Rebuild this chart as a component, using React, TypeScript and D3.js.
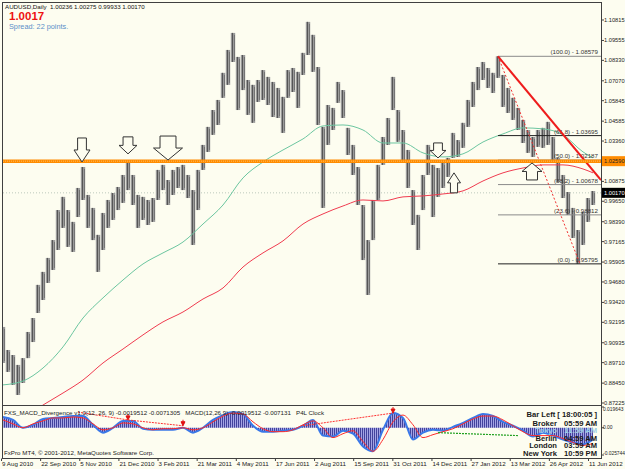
import * as d3 from "d3";

// AUDUSD daily, sampled every ~4 bars (high / low)
const highs = [
  0.9191, 0.9049, 0.9018, 0.8957, 0.8999, 0.916, 0.9246, 0.945, 0.953, 0.9616,
  0.9726, 0.9911, 0.9992, 0.9911, 0.9838, 1.0047, 1.0176, 1.0004, 0.9924, 0.9758,
  0.9893, 0.9973, 1.0016, 1.0053, 1.0127, 1.0219, 1.0127, 1.0004, 0.9992, 0.9973,
  0.9985, 1.0158, 1.0189, 1.0096, 1.0158, 1.0176, 1.0189, 1.0127, 1.0034, 1.0158,
  1.0312, 1.0423, 1.0527, 1.0589, 1.0756, 1.0897, 1.1002, 1.0854, 1.0866, 1.0712,
  1.0682, 1.0712, 1.0773, 1.0731, 1.07, 1.0663, 1.0608, 1.0773, 1.0786, 1.0762,
  1.0879, 1.107, 1.099, 1.0792, 1.0423, 1.0558, 1.054, 1.07, 1.065, 1.0417,
  1.0312, 1.0176, 0.9942, 0.9726, 0.9973, 1.0189, 1.0361, 1.0478, 1.0731, 1.0527,
  1.0404, 1.0281, 1.0034, 0.9881, 1.0127, 1.0312, 1.0189, 1.017, 1.0201, 1.0232,
  1.0386, 1.0342, 1.0448, 1.0589, 1.07, 1.0792, 1.0823, 1.0786, 1.0756, 1.0858,
  1.0743, 1.0663, 1.0602, 1.054, 1.0466, 1.0404, 1.0361, 1.0404, 1.0417, 1.0454,
  1.0361, 1.0232, 1.0127, 1.0022, 0.9924, 0.9788, 0.9899, 0.9985, 1.0028,
];
const lows = [
  0.8969, 0.8914, 0.8834, 0.8772, 0.8846, 0.8999, 0.9098, 0.9277, 0.9357, 0.9462,
  0.9542, 0.9665, 0.9801, 0.9684, 0.9653, 0.9868, 0.9973, 0.9801, 0.9726, 0.953,
  0.9665, 0.9801, 0.985, 0.9911, 0.9955, 1.0034, 0.9942, 0.9801, 0.985, 0.9819,
  0.9838, 0.9973, 1.0034, 0.9942, 1.0004, 1.0047, 1.0034, 0.9985, 0.9696, 0.9911,
  1.0158, 1.0269, 1.0374, 1.0435, 1.0602, 1.0682, 1.0823, 1.0527, 1.065, 1.0497,
  1.0448, 1.0577, 1.0589, 1.0558, 1.0484, 1.0478, 1.0386, 1.0602, 1.0638, 1.054,
  1.0743, 1.0866, 1.0762, 1.0435, 0.9924, 1.0312, 1.0404, 1.0571, 1.0478, 1.025,
  1.0127, 0.9942, 0.9603, 0.9388, 0.9726, 0.9973, 1.0189, 1.0312, 1.0527, 1.0331,
  1.0201, 1.0047, 0.9819, 0.9665, 0.9911, 1.0127, 0.9868, 0.9992, 1.0047, 1.0115,
  1.0232, 1.0238, 1.0294, 1.0423, 1.0546, 1.065, 1.0712, 1.0663, 1.0632, 1.0725,
  1.0546, 1.0509, 1.0466, 1.0404, 1.0324, 1.0263, 1.0238, 1.03, 1.0294, 1.0312,
  1.0219, 1.0084, 0.9985, 0.9881, 0.9739, 0.958, 0.9696, 0.9838, 0.9942,
];

// moving averages, one value every 4 samples (last one at the final bar)
const maGreen = [
  0.8834, 0.8858, 0.8938, 0.9068, 0.9246, 0.937, 0.948, 0.9579, 0.9647, 0.9714,
  0.9825, 0.9942, 1.0109, 1.0207, 1.0281, 1.0349, 1.0429, 1.0435, 1.0404, 1.0324,
  1.0324, 1.0263, 1.0238, 1.0257, 1.033, 1.038, 1.0417, 1.0411, 1.0374, 1.0269, 1.0232,
];
const maRed = [
  0.8556, 0.863, 0.871, 0.8784, 0.8864, 0.8969, 0.9055, 0.9142, 0.9222, 0.9283,
  0.9363, 0.9431, 0.956, 0.9647, 0.9721, 0.9825, 0.9887, 0.9936, 0.9973, 0.9967,
  0.9992, 0.9998, 1.001, 1.0029, 1.009, 1.014, 1.017, 1.0189, 1.0189, 1.0164, 1.014,
];

// MACD panel, one value every 2 samples
const macdMain = [
  0.0102, 0.0074, 0, 0.0028, 0.0083, 0.0093, 0.0102, 0.0111, 0.0111, 0.0028,
  -0.0046, 0, 0.0065, 0.0065, -0.0009, -0.0019, -0.0019, -0.0019, 0, -0.0046,
  0, 0.0074, 0.012, 0.0148, 0.013, 0.0019, -0.0037, -0.0037, -0.0028, -0.0019,
  0.0019, 0.0074, -0.0074, -0.0083, -0.0028, -0.0056, -0.0176, -0.0222, -0.0019, 0.0139,
  0.0093, -0.0111, -0.0046, -0.0019, -0.0028, 0.0009, 0.0046, 0.0093, 0.013, 0.0111,
  0.0056, 0.0019, -0.0028, -0.0083, -0.0046, -0.0074, -0.0111, -0.0139, -0.0157, -0.0111,
];
const macdSignal = [
  0.0074, 0.0037, 0, 0.0037, 0.0065, 0.0093, 0.0093, 0.0102, 0.0093, 0.0037,
  -0.0019, 0, 0.0046, 0.0037, 0, -0.0019, -0.0009, -0.0009, 0, -0.0019,
  0, 0.0056, 0.0111, 0.0139, 0.013, 0.0056, -0.0009, -0.0037, -0.0037, -0.0019,
  0.0028, 0.0065, 0, -0.0093, -0.0056, -0.0028, -0.013, -0.0222, -0.0111, 0.0056,
  0.012, 0.0028, -0.0093, -0.0065, -0.0037, -0.0009, 0.0037, 0.0083, 0.0111, 0.0111,
  0.0074, 0.0019, -0.0037, -0.0074, -0.0074, -0.0074, -0.0102, -0.0139, -0.0167, -0.0148,
];
// divergence lines: [sampleFrom, valueFrom, sampleTo, valueTo]
const divRed = [
  [15, 0.0148, 25, 0.0074],
  [25, 0.0074, 36, 0.0019],
  [60, 0.0019, 78, 0.0139],
];
const divGreen = [[87, -0.0046, 103, -0.0074]];

const priceTicks = [
  "1.10815", "1.09555", "1.08330", "1.07070", "1.05845", "1.04585", "1.03360",
  "1.00875", "0.99650", "0.98390", "0.97165", "0.95905", "0.94680", "0.93420",
  "0.92195", "0.90935", "0.89710", "0.88450", "0.87225",
];
const macdTicks = ["0.019643", "0.00", "-0.025744"];
const timeLabels = [
  "9 Aug 2010", "22 Sep 2010", "5 Nov 2010", "21 Dec 2010", "3 Feb 2011",
  "21 Mar 2011", "4 May 2011", "17 Jun 2011", "2 Aug 2011", "15 Sep 2011",
  "31 Oct 2011", "14 Dec 2011", "27 Jan 2012", "13 Mar 2012", "26 Apr 2012", "11 Jun 2012",
];

const fibLevels = ["100.0", "61.8", "50.0", "38.2", "23.6", "0.0"];
const fibPrices = [1.08579, 1.03695, 1.02187, 1.00678, 0.98812, 0.95795];
const fibStart = 99;
const fibLowAt = 115.4;
const trendEnd = [119.6, 1.0096];
const levelLine = 1.0212;
const levelLabel = "1.02590";
const lastPrice = 1.0017;

// hollow arrows: sample index, tip price, direction, width, height
const arrows = [
  { i: 15.8, p: 1.0207, dir: "down", w: 16, h: 24 },
  { i: 25, p: 1.0257, dir: "down", w: 18, h: 17 },
  { i: 33, p: 1.0219, dir: "down", w: 29, h: 24 },
  { i: 87, p: 1.0232, dir: "down", w: 16, h: 15 },
  { i: 90.2, p: 1.014, dir: "up", w: 13, h: 20 },
  { i: 105.8, p: 1.0201, dir: "up", w: 20, h: 17 },
];

const clockNames = ["Broker", "Tokyo", "Berlin", "London", "New York"];
const clockTimes = ["05:59 AM", "11:59 AM", "04:59 AM", "03:59 AM", "10:59 PM"];

const W = 625;
const H = 469;
const BG = "#fdfdf0";

function arrowPath(w: number, h: number, dir: string) {
  const s = w * 0.55;
  const hh = h * 0.5;
  const k = dir === "down" ? -1 : 1;
  return `M0,0 L${-w / 2},${k * hh} L${-s / 2},${k * hh} L${-s / 2},${k * h} L${s / 2},${k * h} L${s / 2},${k * hh} L${w / 2},${k * hh} Z`;
}

export default function App() {
  const x = d3.scaleLinear().domain([0, highs.length - 1]).range([3, 593]);
  const y = d3.scaleLinear().domain([0.87225, 1.10815]).range([403, 20]);
  const ym = d3.scaleLinear().domain([-0.025744, 0.019643]).range([455, 407]);
  const xt = d3.scalePoint<string>().domain(timeLabels).range([1, 588]);
  const maIdx = (k: number) => Math.min(k * 4, highs.length - 1);

  const maLine = d3
    .line<number>()
    .x((_, k) => x(maIdx(k)))
    .y((d) => y(d))
    .curve(d3.curveMonotoneX);
  const mLine = d3
    .line<number>()
    .x((_, k) => x(k * 2))
    .y((d) => ym(d))
    .curve(d3.curveMonotoneX);
  const mArea = d3
    .area<number>()
    .x((_, k) => x(k * 2))
    .y0(ym(0))
    .y1((d) => ym(d))
    .curve(d3.curveMonotoneX);

  const f6 = 6.2;
  const fAxis = 5.7;
  const fibRight = 601;

  return (
    <div style={{ position: "absolute", left: 0, top: 0, width: W, height: H, background: BG }}>
      <svg width={W} height={H} style={{ display: "block", fontFamily: "'Liberation Sans', Arial, sans-serif" }}>
        <defs>
          <clipPath id="mainClip">
            <rect x={3} y={3} width={598} height={402} />
          </clipPath>
          <clipPath id="macdClip">
            <rect x={3} y={406} width={598} height={52} />
          </clipPath>
          <pattern id="stripe" width={2} height={4} patternUnits="userSpaceOnUse">
            <rect width={2} height={4} fill="#a4a4e4" />
            <rect width={1} height={4} fill="#43439c" />
          </pattern>
        </defs>
        <rect width={W} height={H} fill={BG} />

        {/* main panel */}
        <g clipPath="url(#mainClip)">
          <line x1={3} x2={601} y1={y(lastPrice)} y2={y(lastPrice)} stroke="#bcc8bc" strokeDasharray="1,2" />
          {highs.map((h, i) => (
            <g key={i}>
              <rect x={x(i) - 2.2} y={y(h)} width={4.4} height={y(lows[i]) - y(h)} fill="#9a9a9a" />
              <line x1={x(i) - 0.5} x2={x(i) - 0.5} y1={y(h)} y2={y(lows[i])} stroke="#555" strokeWidth={1} />
              <line x1={x(i) + 1.5} x2={x(i) + 1.5} y1={y(h) + 2} y2={y(lows[i]) - 2} stroke="#6a6a6a" strokeWidth={0.8} />
            </g>
          ))}
          <path d={maLine(maGreen) ?? ""} fill="none" stroke="#6cc6a0" strokeWidth={1} />
          <path d={maLine(maRed) ?? ""} fill="none" stroke="#f03c50" strokeWidth={1} />

          {fibPrices.map((p, j) => (
            <g key={j}>
              <line
                x1={x(fibStart)}
                x2={fibRight}
                y1={y(p)}
                y2={y(p)}
                stroke={j === 1 || j === 5 ? "#202020" : "#8a8a8a"}
                strokeWidth={1}
              />
              <text x={598} y={y(p) - 2} fontSize={f6} textAnchor="end" fill="#333">
                {`(${fibLevels[j]}) - ${p.toFixed(5)}`}
              </text>
            </g>
          ))}
          <line
            x1={x(fibStart)}
            y1={y(fibPrices[0])}
            x2={x(fibLowAt)}
            y2={y(fibPrices[5])}
            stroke="#f03030"
            strokeDasharray="2,2"
          />
          <line
            x1={x(fibStart)}
            y1={y(fibPrices[0])}
            x2={x(trendEnd[0])}
            y2={y(trendEnd[1])}
            stroke="#ee1c1c"
            strokeWidth={2}
          />
          <line x1={3} x2={601} y1={y(levelLine)} y2={y(levelLine)} stroke="#ff8c00" strokeWidth={3.5} />
          <line x1={3} x2={601} y1={y(levelLine)} y2={y(levelLine)} stroke="#ffbd60" strokeWidth={1} strokeDasharray="1,1" />

          {arrows.map((a, j) => (
            <path
              key={j}
              transform={`translate(${x(a.i)},${y(a.p)})`}
              d={arrowPath(a.w, a.h, a.dir)}
              fill={BG}
              stroke="#333"
              strokeWidth={1}
            />
          ))}
        </g>

        {/* MACD panel */}
        <g clipPath="url(#macdClip)">
          <path d={mArea(macdMain) ?? ""} fill="url(#stripe)" />
          <path d={mLine(macdMain) ?? ""} fill="none" stroke="#3a78e8" strokeWidth={2} />
          <path d={mLine(macdSignal) ?? ""} fill="none" stroke="#ff2a2a" strokeWidth={1} />
          {divRed.map((d, j) => (
            <g key={j}>
              <line x1={x(d[0])} y1={ym(d[1])} x2={x(d[2])} y2={ym(d[3])} stroke="#ff3030" strokeDasharray="2,1" />
              <path transform={`translate(${x(d[2])},${ym(d[3])})`} d="M-2,-4 L2,-4 L0,0 Z M0,-6 L0,-3" stroke="#e01010" fill="#e01010" />
            </g>
          ))}
          {divGreen.map((d, j) => (
            <line key={j} x1={x(d[0])} y1={ym(d[1])} x2={x(d[2])} y2={ym(d[3])} stroke="#20a020" strokeWidth={1.2} strokeDasharray="2,1" />
          ))}
        </g>

        {/* frames */}
        <rect x={2.5} y={2.5} width={599} height={403} fill="none" stroke="#404040" />
        <rect x={2.5} y={405.5} width={599} height={53} fill="none" stroke="#404040" />

        {/* price axis */}
        {priceTicks.map((t) => (
          <g key={t}>
            <line x1={601.5} x2={604} y1={y(+t)} y2={y(+t)} stroke="#404040" />
            <text x={604} y={y(+t)} dy="0.35em" fontSize={fAxis} fill="#222">
              {t}
            </text>
          </g>
        ))}
        <rect x={602} y={y(levelLine) - 5} width={23} height={10} fill="#ff8c00" />
        <text x={604} y={y(levelLine)} dy="0.35em" fontSize={fAxis} fill="#222">
          {levelLabel}
        </text>
        <rect x={602} y={y(lastPrice) - 5} width={23} height={10} fill="#000" />
        <text x={604} y={y(lastPrice)} dy="0.35em" fontSize={fAxis} fill="#fff">
          {lastPrice.toFixed(5)}
        </text>

        {/* MACD axis */}
        {macdTicks.map((t, j) => (
          <g key={t}>
            <line x1={601.5} x2={604} y1={ym(+t)} y2={ym(+t)} stroke="#404040" />
            <text x={603} y={ym(+t) + (j === 0 ? 2.5 : j === 2 ? -1.5 : 0)} dy="0.35em" fontSize={4.9} fill="#222">
              {t}
            </text>
          </g>
        ))}

        {/* time axis */}
        {timeLabels.map((t) => (
          <g key={t}>
            <line x1={xt(t)! + 0.5} x2={xt(t)! + 0.5} y1={458.5} y2={461} stroke="#404040" />
            <text x={xt(t)! + 1} y={466} fontSize={f6} fill="#222">
              {t}
            </text>
          </g>
        ))}

        {/* header texts */}
        <text x={5} y={8.5} fontSize={f6} fill="#111" style={{ whiteSpace: "pre" }}>
          {"AUDUSD,Daily  1.00236 1.00275 0.99933 1.00170"}
        </text>
        <text x={9} y={20} fontSize={11.5} fontWeight="bold" fill="#ee1111">
          1.0017
        </text>
        <text x={9} y={28.5} fontSize={7.3} fill="#5b8fc8">
          Spread: 22 points.
        </text>
        <text x={4} y={414.5} fontSize={f6} fill="#222" style={{ whiteSpace: "pre" }}>
          {"FXS_MACD_Divergence v1.0(12, 26, 9) -0.0019512 -0.0071305   MACD(12,26,9) -0.0019512 -0.007131   P4L Clock"}
        </text>
        <text x={4} y={455} fontSize={f6} fill="#222">
          FxPro MT4, © 2001-2012, MetaQuotes Software Corp.
        </text>

        {/* clock */}
        <g fontSize={7.6} fontWeight="bold" fill="#1a1a1a">
          <text x={597} y={417} textAnchor="end">
            Bar Left [ 18:00:05 ]
          </text>
          {clockNames.map((n, j) => (
            <g key={n} fill={n === "Tokyo" ? "#9ccfe6" : "#1a1a1a"}>
              <text x={557} y={425.5 + j * 7.6} textAnchor="end">
                {n}
              </text>
              <text x={597} y={425.5 + j * 7.6} textAnchor="end">
                {clockTimes[j]}
              </text>
            </g>
          ))}
        </g>
      </svg>
    </div>
  );
}
